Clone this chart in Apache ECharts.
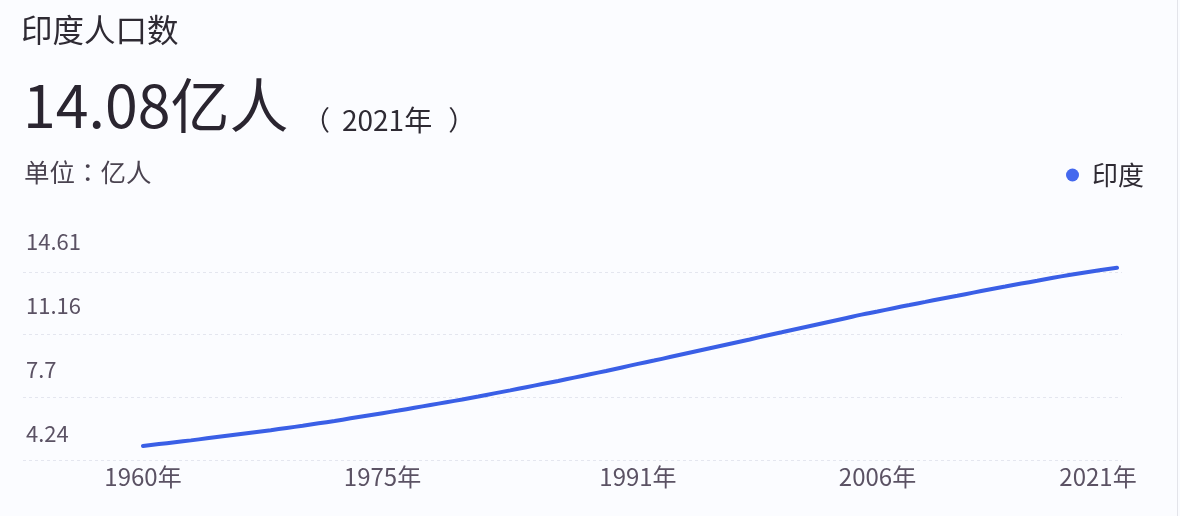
<!DOCTYPE html>
<html>
<head>
<meta charset="utf-8">
<script src="https://cdn.jsdelivr.net/npm/echarts@6/dist/echarts.min.js"></script>
<style>
html,body{margin:0;padding:0;background:#fbfcff;}
#wrap{width:1177px;height:516px;border-right:1px solid #e3e4ea;background:#fbfcff;}
#chart{width:1177px;height:516px;}
</style>
</head>
<body>
<div id="wrap"><div id="chart"></div></div>
<script>
// ---- data ----
const years = ['1960','1961','1962','1963','1964','1965','1966','1967','1968','1969',
  '1970','1971','1972','1973','1974','1975','1976','1977','1978','1979',
  '1980','1981','1982','1983','1984','1985','1986','1987','1988','1989',
  '1990','1991','1992','1993','1994','1995','1996','1997','1998','1999',
  '2000','2001','2002','2003','2004','2005','2006','2007','2008','2009',
  '2010','2011','2012','2013','2014','2015','2016','2017','2018','2019',
  '2020','2021'];
const indiaPop = [4.46,4.56,4.66,4.76,4.87,4.98,5.09,5.20,5.31,5.43,
  5.55,5.68,5.81,5.95,6.09,6.23,6.37,6.52,6.67,6.82,
  6.97,7.13,7.30,7.46,7.63,7.80,7.97,8.15,8.33,8.51,
  8.70,8.89,9.07,9.26,9.45,9.64,9.83,10.02,10.21,10.41,
  10.60,10.79,10.98,11.17,11.36,11.55,11.72,11.90,12.07,12.24,
  12.41,12.57,12.74,12.91,13.07,13.23,13.38,13.54,13.69,13.83,
  13.96,14.08];
const yTickLabels = ['4.24','7.7','11.16','14.61'];
const yMin = 4.24;
const yMax = 14.61;
const xTickYears = ['1960','1975','1991','2006','2021'];
const seriesName = '印度';
const headline = '14.08亿人';
const headlineYear = '2021年';
const unitText = '单位：亿人';

// ---- chart ----
const FONT = '"Noto Sans CJK SC", "Noto Sans", sans-serif';
const FONT_TC = '"Noto Sans CJK TC", "Noto Sans CJK SC", sans-serif';
const yInterval = (yMax - yMin) / (yTickLabels.length - 1);
const chart = echarts.init(document.getElementById('chart'), null, {renderer: 'canvas'});
const option = {
  backgroundColor: '#fbfcff',
  textStyle: {fontFamily: FONT},
  title: [
    {text: '印度人口数', left: 21, top: 14, padding: 0, textStyle: {fontSize: 31.5, fontWeight: 'normal', color: '#2e2a33', fontFamily: FONT}},
    {text: headline, left: 23, top: 76, padding: 0, textStyle: {fontSize: 59, fontWeight: 'normal', color: '#2a2530', fontFamily: FONT}},
    {
      text: '{p|（}{d|' + headlineYear + '}{p|）}', left: 303, top: 106, padding: 0,
      textStyle: {
        fontSize: 27, fontWeight: 'normal', color: '#2e2a33', fontFamily: FONT,
        rich: {
          p: {fontSize: 27, color: '#2e2a33', fontFamily: FONT_TC},
          d: {fontSize: 28, color: '#2e2a33', fontFamily: FONT, padding: [0, 16, 0, 12]}
        }
      }
    },
    {text: unitText, left: 24, top: 160, padding: 0, textStyle: {fontSize: 25.5, fontWeight: 'normal', color: '#4a4350', fontFamily: FONT_TC}}
  ],
  legend: {
    data: [seriesName],
    left: 1066, top: 162, padding: 0,
    icon: 'circle', itemWidth: 13, itemHeight: 13, itemGap: 10,
    textStyle: {fontSize: 26, color: '#2e2a33', fontFamily: FONT, padding: [0, 0, 0, 8]}
  },
  grid: [
    {left: 143, width: 974, top: 258, height: 192, containLabel: false},
    {left: 23, width: 1099, top: 272, height: 188, containLabel: false}
  ],
  xAxis: [
    {
      type: 'category', gridIndex: 0, data: years, boundaryGap: false,
      axisLine: {show: false}, axisTick: {show: false}, splitLine: {show: false},
      axisLabel: {
        interval: function (i, v) { return xTickYears.indexOf(v) >= 0; },
        margin: 15, fontSize: 24, color: '#5b5264', fontFamily: FONT,
        formatter: function (v) {
          return v === xTickYears[xTickYears.length - 1] ? '{last|' + v + '年}' : v + '年';
        },
        rich: {last: {fontSize: 24, color: '#5b5264', fontFamily: FONT, padding: [0, 38, 0, 0]}}
      }
    },
    {type: 'value', gridIndex: 1, min: 0, max: 1, show: false}
  ],
  yAxis: [
    {
      type: 'value', gridIndex: 0, min: yMin, max: yMax, interval: yInterval,
      axisLine: {show: false}, axisTick: {show: false}, splitLine: {show: false},
      axisLabel: {
        showMinLabel: true, showMaxLabel: true, hideOverlap: false,
        align: 'left', margin: 117, fontSize: 22, lineHeight: 33, color: '#5b5264', fontFamily: FONT,
        verticalAlign: 'bottom',
        formatter: function (v, i) { return yTickLabels[i] !== undefined ? yTickLabels[i] : ''; }
      }
    },
    {
      type: 'value', gridIndex: 1, min: yMin, max: yMax, interval: yInterval,
      axisLine: {show: false}, axisTick: {show: false}, axisLabel: {show: false},
      splitLine: {show: true, lineStyle: {color: '#e4e6ef', width: 1, type: [3, 3]}}
    }
  ],
  series: [{
    name: seriesName, type: 'line', xAxisIndex: 0, yAxisIndex: 0,
    data: indiaPop, showSymbol: false, symbol: 'circle', smooth: true,
    itemStyle: {color: '#4468ee'},
    lineStyle: {color: '#3a5fe6', width: 4, cap: 'round'},
    silent: true
  }],
  animation: false
};
chart.setOption(option);
</script>
</body>
</html>
